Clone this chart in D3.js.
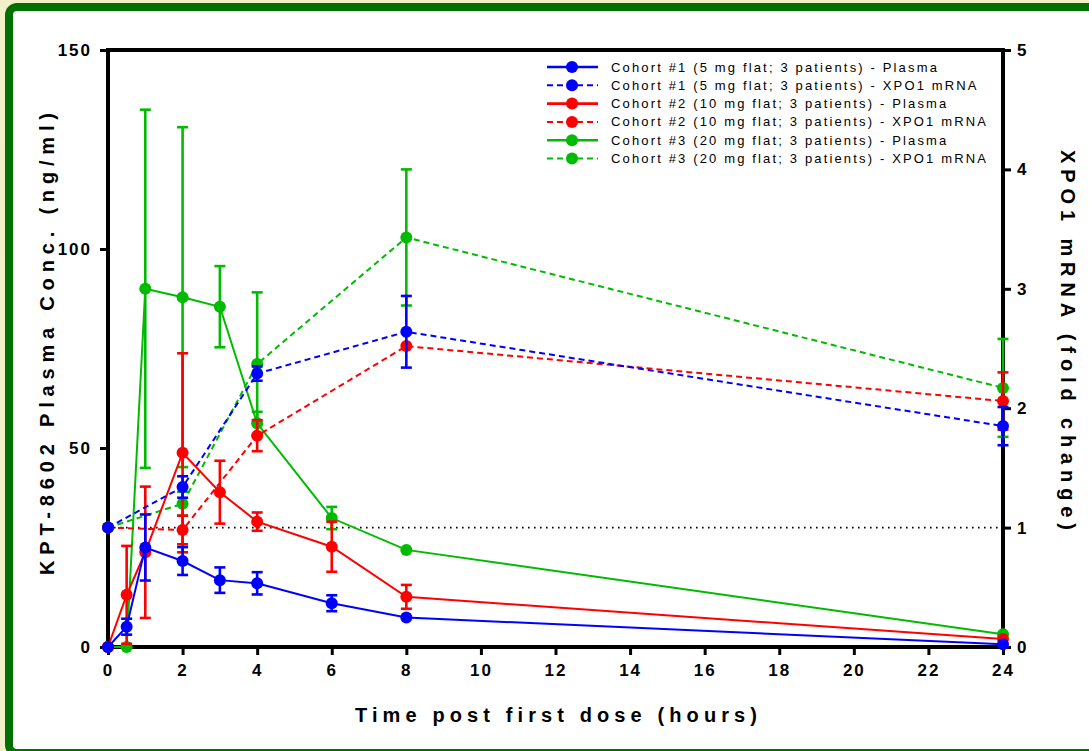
<!DOCTYPE html>
<html><head><meta charset="utf-8">
<script src="https://cdn.jsdelivr.net/npm/d3@7/dist/d3.min.js"></script>
<style>
html,body{margin:0;padding:0;background:#f3efc8;}
svg{display:block;}
text{font-family:"Liberation Sans",Arial,sans-serif;}
</style></head>
<body>
<svg id="chart" width="1089" height="751"></svg>
<script>
// ---- data ----
const timesPlasma = [0, 0.5, 1, 2, 3, 4, 6, 8, 24];
const timesXpo = [0, 2, 4, 8, 24];

const c1Plasma    = [0, 5.1, 25.0, 21.6, 16.8, 16.0, 11.0, 7.4, 0.7];
const c1PlasmaErr = [0, 2.0, 8.3, 3.5, 3.2, 2.8, 2.0, 0, 0];
const c2Plasma    = [0, 13.1, 23.8, 48.8, 38.9, 31.5, 25.2, 12.6, 2.0];
const c2PlasmaErr = [0, 12.3, 16.5, 25.0, 7.9, 2.3, 6.3, 3.0, 0];
const c3Plasma    = [0, 0, 90.0, 87.9, 85.5, 56.2, 32.4, 24.4, 3.2];
const c3PlasmaErr = [0, 0, 45.0, 42.7, 10.2, 2.9, 2.8, 0, 0];

const c1Xpo    = [1, 1.34, 2.29, 2.64, 1.85];
const c1XpoErr = [0, 0.09, 0.06, 0.30, 0.16];
const c2Xpo    = [1, 0.98, 1.77, 2.52, 2.06];
const c2XpoErr = [0, 0.12, 0.13, 0, 0.24];
const c3Xpo    = [1, 1.20, 2.37, 3.43, 2.17];
const c3XpoErr = [0, 0.10, 0.60, 0.57, 0.41];

const xTicks = [0, 2, 4, 6, 8, 10, 12, 14, 16, 18, 20, 22, 24];
const yLeftTicks = [0, 50, 100, 150];
const yRightTicks = [0, 1, 2, 3, 4, 5];

const legendLabels = [
  "Cohort #1 (5 mg flat; 3 patients) - Plasma",
  "Cohort #1 (5 mg flat; 3 patients) - XPO1 mRNA",
  "Cohort #2 (10 mg flat; 3 patients) - Plasma",
  "Cohort #2 (10 mg flat; 3 patients) - XPO1 mRNA",
  "Cohort #3 (20 mg flat; 3 patients) - Plasma",
  "Cohort #3 (20 mg flat; 3 patients) - XPO1 mRNA"
];
const colors = {c1: "#0000ff", c2: "#ff0000", c3: "#00bb00"};

// ---- layout ----
const L = 108, R = 1003, T = 50, B = 647;
const svg = d3.select("#chart");

svg.append("rect").attr("x", 0).attr("y", 0).attr("width", 1089).attr("height", 751).attr("fill", "#f3efc8");
svg.append("rect").attr("x", 9).attr("y", 7).attr("width", 1092).attr("height", 746)
  .attr("rx", 8).attr("fill", "#ffffff").attr("stroke", "#007000").attr("stroke-width", 8);

const x = d3.scaleLinear().domain([0, 24]).range([L, R]);
const yL = d3.scaleLinear().domain([0, 150]).range([B, T]);
const yR = d3.scaleLinear().domain([0, 5]).range([B, T]);

// dotted reference at fold change 1
svg.append("line").attr("x1", L).attr("x2", R).attr("y1", yR(1)).attr("y2", yR(1))
  .attr("stroke", "#000").attr("stroke-width", 1.6).attr("stroke-dasharray", "1.6,4.4");

// axes
function styleAxis(g) {
  g.select(".domain").remove();
  g.selectAll(".tick line").attr("stroke", "#000").attr("stroke-width", 3);
  g.selectAll(".tick text").attr("fill", "#000").style("font-size", "17px")
    .style("font-weight", "bold").style("letter-spacing", "2px");
}
svg.append("g").attr("transform", `translate(0,${B})`)
  .call(d3.axisBottom(x).tickValues(xTicks).tickSize(8).tickPadding(9).tickFormat(d3.format("d")))
  .call(styleAxis);
svg.append("g").attr("transform", `translate(${L},0)`)
  .call(d3.axisLeft(yL).tickValues(yLeftTicks).tickSize(8).tickPadding(8).tickFormat(d3.format("d")))
  .call(styleAxis);
svg.append("g").attr("transform", `translate(${R},0)`)
  .call(d3.axisRight(yR).tickValues(yRightTicks).tickSize(8).tickPadding(6).tickFormat(d3.format("d")))
  .call(styleAxis);

// frame lines
const frame = svg.append("g").attr("stroke", "#000").attr("stroke-width", 4).attr("stroke-linecap", "square");
frame.append("line").attr("x1", L).attr("x2", R).attr("y1", B).attr("y2", B);
frame.append("line").attr("x1", L).attr("x2", R).attr("y1", T).attr("y2", T);
frame.append("line").attr("x1", L).attr("x2", L).attr("y1", T).attr("y2", B);
frame.append("line").attr("x1", R).attr("x2", R).attr("y1", T).attr("y2", B);

// series
function drawSeries(times, vals, errs, yScale, color, dashed) {
  const g = svg.append("g");
  const pts = times.map((t, i) => ({t, v: vals[i], e: errs[i]}));
  g.append("path").datum(pts)
    .attr("d", d3.line().x(d => x(d.t)).y(d => yScale(d.v)))
    .attr("fill", "none").attr("stroke", color).attr("stroke-width", 2)
    .attr("stroke-dasharray", dashed ? "6,4" : null);
  const eb = g.selectAll(".eb").data(pts.filter(d => d.e > 0)).enter().append("g")
    .attr("stroke", color).attr("stroke-width", 2.6);
  eb.append("line").attr("x1", d => x(d.t)).attr("x2", d => x(d.t))
    .attr("y1", d => yScale(d.v - d.e)).attr("y2", d => yScale(d.v + d.e));
  eb.append("line").attr("x1", d => x(d.t) - 5.5).attr("x2", d => x(d.t) + 5.5)
    .attr("y1", d => yScale(d.v + d.e)).attr("y2", d => yScale(d.v + d.e));
  eb.append("line").attr("x1", d => x(d.t) - 5.5).attr("x2", d => x(d.t) + 5.5)
    .attr("y1", d => yScale(d.v - d.e)).attr("y2", d => yScale(d.v - d.e));
  g.selectAll("circle").data(pts).enter().append("circle")
    .attr("cx", d => x(d.t)).attr("cy", d => yScale(d.v)).attr("r", 6).attr("fill", color);
}
drawSeries(timesXpo, c3Xpo, c3XpoErr, yR, colors.c3, true);
drawSeries(timesPlasma, c3Plasma, c3PlasmaErr, yL, colors.c3, false);
drawSeries(timesXpo, c2Xpo, c2XpoErr, yR, colors.c2, true);
drawSeries(timesPlasma, c2Plasma, c2PlasmaErr, yL, colors.c2, false);
drawSeries(timesXpo, c1Xpo, c1XpoErr, yR, colors.c1, true);
drawSeries(timesPlasma, c1Plasma, c1PlasmaErr, yL, colors.c1, false);

// legend
const legColors = [colors.c1, colors.c1, colors.c2, colors.c2, colors.c3, colors.c3];
const leg = svg.append("g");
legendLabels.forEach((lab, i) => {
  const yy = 67 + i * 18.3;
  const dashed = i % 2 === 1;
  leg.append("line").attr("x1", 547).attr("x2", 598).attr("y1", yy).attr("y2", yy)
    .attr("stroke", legColors[i]).attr("stroke-width", dashed ? 2 : 2.6)
    .attr("stroke-dasharray", dashed ? "6,4" : null);
  leg.append("circle").attr("cx", 572).attr("cy", yy).attr("r", 6).attr("fill", legColors[i]);
  leg.append("text").attr("x", 611).attr("y", yy + 4.5).text(lab)
    .style("font-size", "13px").style("letter-spacing", "2.15px").attr("fill", "#000");
});

// axis titles
svg.append("text").attr("x", 556).attr("y", 722).attr("text-anchor", "middle")
  .attr("textLength", 402).attr("lengthAdjust", "spacing")
  .style("font-size", "20px").style("font-weight", "bold").text("Time post first dose (hours)");
svg.append("text").attr("transform", "translate(54,344) rotate(-90)").attr("text-anchor", "middle")
  .attr("textLength", 462).attr("lengthAdjust", "spacing")
  .style("font-size", "20px").style("font-weight", "bold").text("KPT-8602 Plasma Conc. (ng/ml)");
svg.append("text").attr("transform", "translate(1061,340) rotate(90)").attr("text-anchor", "middle")
  .attr("textLength", 380).attr("lengthAdjust", "spacing")
  .style("font-size", "20px").style("font-weight", "bold").text("XPO1 mRNA (fold change)");
</script>
</body></html>
